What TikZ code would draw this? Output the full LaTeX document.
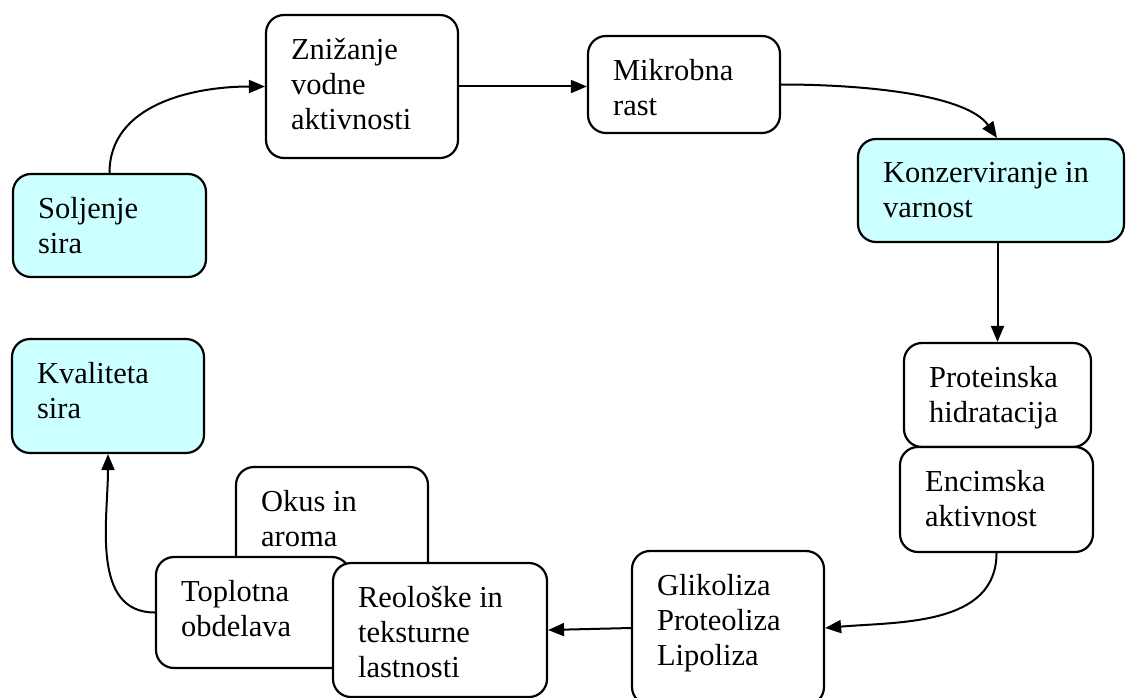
\documentclass[tikz,border=0pt]{standalone}
\usepackage{fontspec}
\setmainfont{Liberation Serif}
\usetikzlibrary{arrows.meta}
\definecolor{lightcyan}{HTML}{CCFFFF}
\tikzstyle{box} = [draw=black, rounded corners=18pt, line width=2.2pt, fill=white, inner sep=0pt]
\tikzstyle{hl} = [box, fill=lightcyan]
\tikzstyle{txt} = [anchor=north west, align=left, inner sep=0pt, xshift=26pt, yshift=-24pt, font=\fontsize{30.5}{35}\selectfont, execute at begin node=\strut]
\tikzstyle{arrow} = [line width=2pt, -{Triangle[length=16pt,width=13pt]}]

\begin{document}
\begin{tikzpicture}[x=1pt,y=-1pt]
    \useasboundingbox (0,0) rectangle (1126,698);
    \clip (0,0) rectangle (1126,698);
    % top row
    \node [hl, minimum width=193pt, minimum height=103pt, label={[txt]north west:Soljenje\\sira}] (sol) at (109.5,225.5) {};
    \node [box, minimum width=192pt, minimum height=143pt, label={[txt]north west:Znižanje\\vodne\\aktivnosti}] (zni) at (362,86.5) {};
    \node [box, minimum width=192pt, minimum height=97pt, label={[txt]north west:Mikrobna\\rast}] (mik) at (684,84.5) {};
    \node [hl, minimum width=266pt, minimum height=103pt, label={[txt]north west:Konzerviranje in\\varnost}] (kon) at (991,190.5) {};
    % right column
    \node [box, minimum width=187pt, minimum height=104pt, label={[txt]north west:Proteinska\\hidratacija}] (pro) at (997.5,395) {};
    \node [box, minimum width=193pt, minimum height=105pt, label={[txt]north west:Encimska\\aktivnost}] (enc) at (996.5,499.5) {};
    % bottom row
    \node [box, minimum width=192pt, minimum height=154pt, label={[txt]north west:Glikoliza\\Proteoliza\\Lipoliza}] (gli) at (728,628) {};
    \node [box, minimum width=192pt, minimum height=133pt, label={[txt]north west:Okus in\\aroma}] (oku) at (332,533.5) {};
    \node [box, minimum width=194pt, minimum height=111pt, label={[txt]north west:Toplotna\\obdelava}] (top) at (253,612.5) {};
    \node [box, minimum width=214pt, minimum height=134pt, label={[txt]north west:Reološke in\\teksturne\\lastnosti}] (reo) at (440,630) {};
    \node [hl, minimum width=192pt, minimum height=114pt, label={[txt]north west:Kvaliteta\\sira}] (kva) at (108,396) {};
    % connectors
    \draw [arrow] (sol.north) to[out=90, in=180] (zni.west);
    \draw [arrow] (zni.east) -- (mik.west |- zni.east);
    \draw [arrow] (mik.east) to[out=0, in=125, in looseness=0.6] ([xshift=6pt]kon.north);
    \draw [arrow] (pro.north |- kon.south) -- (pro.north);
    \draw [arrow] (enc.south) to[out=-90, in=5] (gli.east);
    \draw [arrow] (gli.west) -- (reo.east);
    \draw [arrow] (top.west) to[out=180, in=-90] (kva.south);
\end{tikzpicture}
\end{document}
